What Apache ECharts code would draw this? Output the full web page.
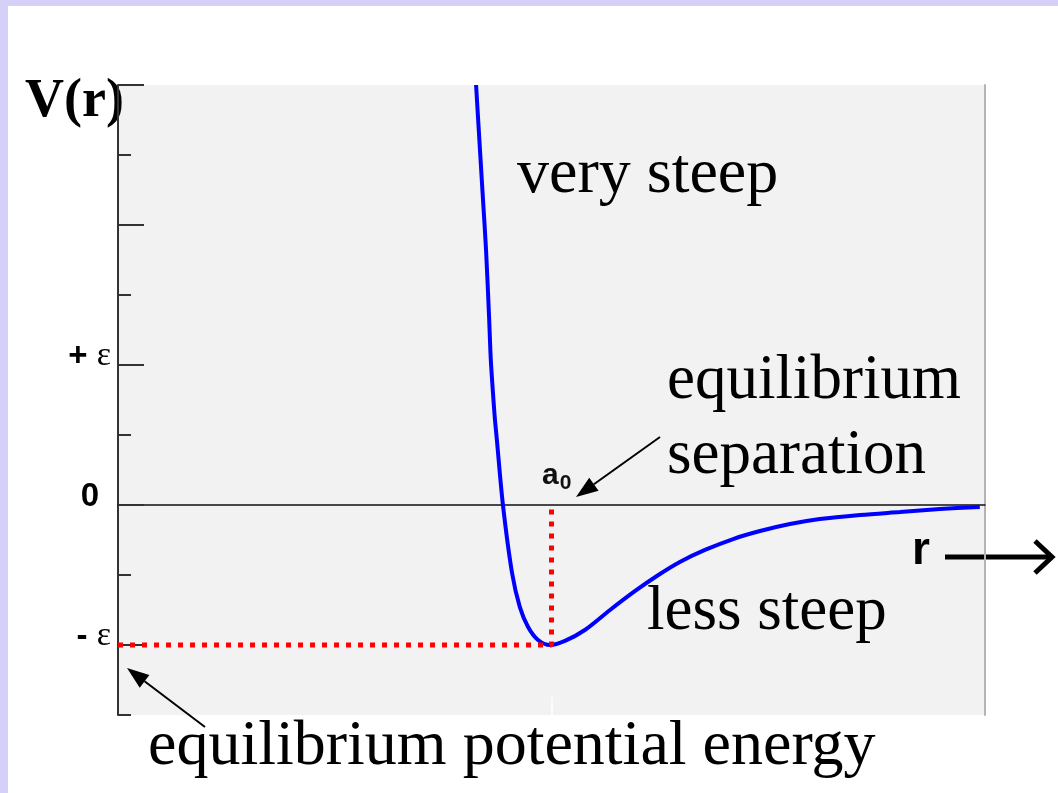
<!DOCTYPE html>
<html>
<head>
<meta charset="utf-8">
<script src="https://cdn.jsdelivr.net/npm/echarts@6/dist/echarts.min.js"></script>
<style>
  html, body { margin: 0; padding: 0; background: #fff; }
  #main { width: 1058px; height: 793px; }
</style>
</head>
<body>
<div id="main"></div>
<script>
// potential curve V(r), r in units where a0 = 1, V in units of epsilon
const rVals = [0.826, 0.835, 0.842, 0.849, 0.856, 0.860, 0.865, 0.869, 0.874, 0.888, 0.909, 0.927, 0.946, 0.969, 0.997,
               1.031, 1.077, 1.135, 1.193, 1.243, 1.296, 1.354, 1.419, 1.481, 1.550, 1.619, 1.712, 1.804, 1.896, 1.988];
const vVals = [3.0, 2.536, 2.179, 1.821, 1.343, 1.036, 0.800, 0.629, 0.464, 0, -0.486, -0.729, -0.871, -0.964, -1.0,
               -0.971, -0.893, -0.75, -0.614, -0.507, -0.407, -0.321, -0.243, -0.186, -0.136, -0.1, -0.071, -0.05, -0.029, -0.014];

// equilibrium point
const a0 = 1.0;
const eps = 1.0;

// y axis ticks
const majorTicks = [-1, 0, 1, 2, 3];
const minorTicks = [-1.5, -0.5, 0.5, 1.5, 2.5];
const tickLabels = { '-1': '- {e|ε}', '0': '{z|0}', '1': '+ {e|ε}' };

const curve = rVals.map((r, i) => [r, vVals[i]]);
const guide = [[0, -eps], [a0, -eps], [a0, 0]];

const chart = echarts.init(document.getElementById('main'));

function arrow(x1, y1, x2, y2, head, half) {
    const dx = x2 - x1, dy = y2 - y1;
    const len = Math.sqrt(dx * dx + dy * dy);
    const ux = dx / len, uy = dy / len;
    const bx = x2 - ux * head, by = y2 - uy * head;
    return [
        { type: 'line', shape: { x1: x1, y1: y1, x2: bx, y2: by }, style: { stroke: '#000', lineWidth: 2 } },
        { type: 'polygon', shape: { points: [[x2, y2], [bx - uy * half, by + ux * half], [bx + uy * half, by - ux * half]] }, style: { fill: '#000' } }
    ];
}

const serif = "'Liberation Serif', 'Times New Roman', serif";
const sans = "'Liberation Sans', Arial, sans-serif";

const optionData = {
    animation: false,
    backgroundColor: '#fff',
    grid: {
        left: 118,
        right: 73,
        top: 85,
        bottom: 78,
        show: true,
        backgroundColor: '#f2f2f2',
        borderWidth: 0
    },
    xAxis: [
        {
            type: 'value',
            min: 0,
            max: 2,
            axisLine: { onZero: true, lineStyle: { color: '#111', width: 1.5 } },
            axisTick: { show: false },
            axisLabel: { show: false },
            splitLine: { show: false }
        },
        {
            type: 'value',
            position: 'bottom',
            min: 0,
            max: 2,
            axisLine: { show: false, onZero: false },
            axisTick: { show: true, inside: true, length: 18, customValues: [a0], lineStyle: { color: '#fff', width: 1.5 } },
            axisLabel: { show: false },
            splitLine: { show: false }
        }
    ],
    yAxis: [
        {
            type: 'value',
            position: 'left',
            min: -1.5,
            max: 3,
            axisLine: { show: true, onZero: false, lineStyle: { color: '#333', width: 2 } },
            axisTick: { show: true, inside: true, length: 26, customValues: majorTicks, lineStyle: { color: '#333', width: 2 } },
            axisLabel: {
                show: true,
                customValues: [-1, 0, 1],
                margin: 7,
                fontFamily: sans,
                fontWeight: 'bold',
                fontSize: 33,
                color: '#000',
                padding: [0, 0, 17, 0],
                formatter: v => tickLabels[String(v)] || '',
                rich: {
                    e: { fontFamily: serif, fontWeight: 'normal', fontSize: 34, color: '#000' },
                    z: { fontFamily: sans, fontWeight: 'bold', fontSize: 33, color: '#000', padding: [0, 12, 0, 0] }
                }
            },
            splitLine: { show: false }
        },
        {
            type: 'value',
            position: 'left',
            min: -1.5,
            max: 3,
            axisLine: { show: false, onZero: false },
            axisTick: { show: true, inside: true, length: 13, customValues: minorTicks, lineStyle: { color: '#333', width: 2 } },
            axisLabel: { show: false },
            splitLine: { show: false }
        },
        {
            type: 'value',
            position: 'right',
            min: -1.5,
            max: 3,
            axisLine: { show: true, onZero: false, lineStyle: { color: '#b4b4b4', width: 2 } },
            axisTick: { show: false },
            axisLabel: { show: false },
            splitLine: { show: false }
        }
    ],
    series: [
        {
            name: 'guide',
            type: 'line',
            data: guide,
            symbol: 'none',
            z: 3,
            lineStyle: { color: '#ff0000', width: 5, type: [5, 7] }
        },
        {
            name: 'V(r)',
            type: 'line',
            data: curve,
            smooth: 0.3,
            symbol: 'none',
            z: 2,
            lineStyle: { color: '#0000ff', width: 4 }
        }
    ],
    graphic: [
        { type: 'rect', shape: { x: 0, y: 0, width: 1058, height: 6 }, style: { fill: '#d4d0f8' } },
        { type: 'rect', shape: { x: 0, y: 0, width: 8, height: 793 }, style: { fill: '#d4d0f8' } },
        { type: 'text', x: 25, y: 102, style: { text: 'V(r)', font: 'bold 54px ' + serif, fill: '#000', verticalAlign: 'middle' } },
        { type: 'text', x: 517, y: 175, style: { text: 'very steep', font: '64px ' + serif, fill: '#000', verticalAlign: 'middle' } },
        { type: 'text', x: 667, y: 381, style: { text: 'equilibrium', font: '63px ' + serif, fill: '#000', verticalAlign: 'middle' } },
        { type: 'text', x: 667, y: 456, style: { text: 'separation', font: '63px ' + serif, fill: '#000', verticalAlign: 'middle' } },
        { type: 'text', x: 647, y: 612, style: { text: 'less steep', font: '63px ' + serif, fill: '#000', verticalAlign: 'middle' } },
        { type: 'text', x: 148, y: 747, style: { text: 'equilibrium potential energy', font: '64px ' + serif, fill: '#000', verticalAlign: 'middle' } },
        {
            type: 'text', x: 542, y: 476,
            style: {
                text: '{a|a}{b|0}', verticalAlign: 'middle',
                rich: {
                    a: { fontFamily: sans, fontWeight: 'bold', fontSize: 30, fill: '#111' },
                    b: { fontFamily: sans, fontWeight: 'bold', fontSize: 21, fill: '#111', padding: [14, 0, 0, 1] }
                }
            }
        },
        { type: 'text', x: 912, y: 551, style: { text: 'r', font: 'bold 46px ' + sans, fill: '#000', verticalAlign: 'middle' } },
        { type: 'line', shape: { x1: 945, y1: 557, x2: 1050, y2: 557 }, style: { stroke: '#000', lineWidth: 5 } },
        { type: 'polyline', shape: { points: [[1035, 541], [1052, 557], [1035, 573]] }, style: { stroke: '#000', lineWidth: 5, fill: null } }
    ].concat(arrow(660, 437, 576, 497, 22, 8)).concat(arrow(205, 727, 127, 668, 22, 8))
};

chart.setOption(optionData);
</script>
</body>
</html>
